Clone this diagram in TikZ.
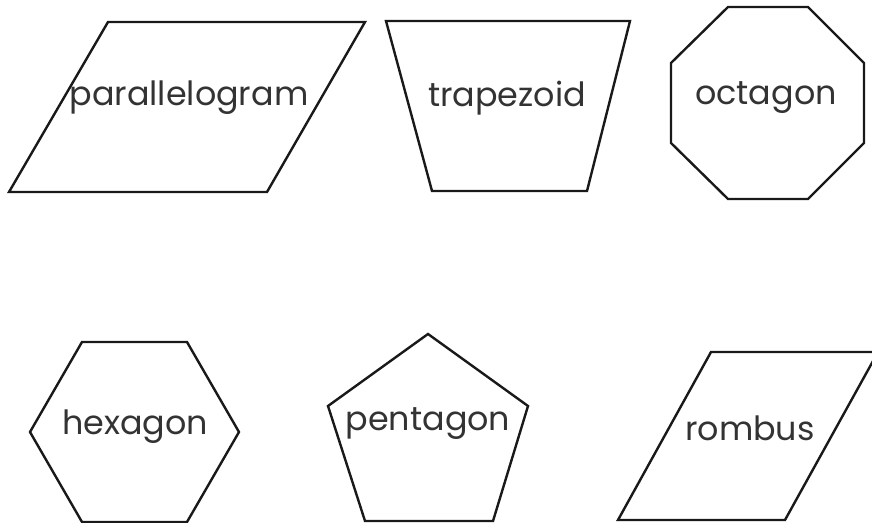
\documentclass[tikz,border=0pt]{standalone}
\usepackage{fontspec}
\setmainfont{Poppins}
\usepackage{tikz}
\usetikzlibrary{positioning, calc}

\tikzset{
  outline/.style={draw=black!90, line width=2.4bp, line join=miter},
  shapelabel/.style={font=\fontsize{33.5}{40}\selectfont, text=black!80, inner sep=0pt}
}

\begin{document}
\begin{tikzpicture}[x=1bp, y=-1bp]
  \useasboundingbox (0,0) rectangle (872,523);
  \clip (0,0) rectangle (872,523);

  % parallelogram
  \draw[outline] (108,22) -- (365,22) -- (267,192) -- (9,192) -- cycle;
  \node[shapelabel] (parallelogram) at (189,98) {parallelogram};

  % trapezoid
  \draw[outline] (386,21) -- (630,21) -- (587,191) -- (432,191) -- cycle;
  \node[shapelabel] (trapezoid) at (507,98) {trapezoid};

  % octagon
  \draw[outline] (728,7) -- (808,7) -- (864,63) -- (864,143)
    -- (808,199) -- (728,199) -- (671,143) -- (671,63) -- cycle;
  \node[shapelabel] (octagon) at (766,98) {octagon};

  % hexagon
  \draw[outline] (82,342) -- (187,342) -- (239,432) -- (187,522)
    -- (82,522) -- (30,432) -- cycle;
  \node[shapelabel] (hexagon) at (135,427) {hexagon};

  % pentagon
  \draw[outline] (428,334) -- (528,406) -- (493,521) -- (365,521)
    -- (328,406) -- cycle;
  \node[shapelabel] (pentagon) at (428,424) {pentagon};

  % rombus (runs off the right edge)
  \draw[outline] (711,352) -- (878,352) -- (785,520) -- (618,520) -- cycle;
  \node[shapelabel] (rombus) at (750,428) {rombus};
\end{tikzpicture}
\end{document}
